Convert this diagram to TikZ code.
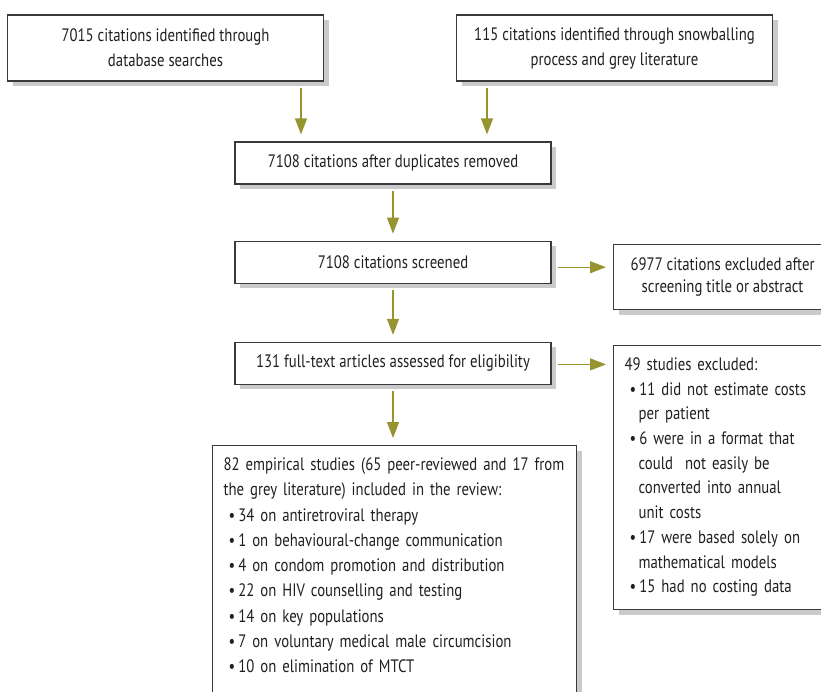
\documentclass[tikz,border=0pt]{standalone}
\usepackage{fontspec}
\setmainfont{PT Sans}[FakeStretch=0.82]
\usetikzlibrary{positioning, arrows.meta}

\definecolor{arrowolive}{RGB}{150,148,46}
\definecolor{boxline}{RGB}{58,58,58}
\definecolor{boxshade}{RGB}{202,202,202}
\definecolor{ink}{RGB}{35,31,32}

\newcommand{\bulit}{\hspace*{5pt}\textbullet\hspace{3pt}}
\newcommand{\contin}{\hspace*{14pt}}

\begin{document}
\begin{tikzpicture}[x=1pt,y=-1pt,>={Triangle[length=16pt,width=12pt]},font=\fontsize{18}{25}\selectfont]
	\tikzset{box/.style={draw=boxline, line width=1.2pt, fill=white, text=ink, minimum width=316pt, minimum height=42pt, align=center,
		preaction={fill=boxshade, draw=none, transform canvas={shift={(5pt,-5pt)}}}},
		flow/.style={->, color=arrowolive, line width=1.2pt, shorten <=6pt, shorten >=7pt}}
	\useasboundingbox (0,0) rectangle (821,691);
	\node[box, minimum height=66pt] (db) at (165.5,48) {7015 citations identified through\\database searches};
	\node[box, minimum height=66pt] (snow) at (614.5,48) {115 citations identified through snowballing\\process and grey literature};
	\node[box] (dedup) at (393,163) {7108 citations after duplicates removed};
	\node[box] (screened) [below=56pt of dedup] {7108 citations screened};
	\node[box] (fulltext) [below=58pt of screened] {131 full-text articles assessed for eligibility};
	\node[box, anchor=north west, minimum width=218pt, minimum height=65pt, font=\fontsize{18}{22}\selectfont] (scrout) at (613,244) {6977 citations excluded after\\screening title or abstract};
	\node[box, anchor=north west, minimum width=218pt, text width=196pt, align=left, inner xsep=11pt, inner ysep=12pt, font=\fontsize{18}{24.7}\selectfont] (ftout) at (613,345) {49 studies excluded:\\
		\bulit 11 did not estimate costs\\
		\contin per patient\\
		\bulit 6 were in a format that\\
		\contin could~ not easily be\\
		\contin converted into annual\\
		\contin unit costs\\
		\bulit 17 were based solely on\\
		\contin mathematical models\\
		\bulit 15 had no costing data\rule[-5pt]{0pt}{0pt}};
	\node[box, anchor=north west, text width=342pt, align=left, inner xsep=11pt, inner ysep=12pt, font=\fontsize{18}{25.3}\selectfont] (incl) at (212,445) {82 empirical studies (65 peer-reviewed and 17 from\\
		the grey literature) included in the review:\\
		\bulit 34 on antiretroviral therapy\\
		\bulit 1 on behavioural-change communication\\
		\bulit 4 on condom promotion and distribution\\
		\bulit 22 on HIV counselling and testing\\
		\bulit 14 on key populations\\
		\bulit 7 on voluntary medical male circumcision\\
		\bulit 10 on elimination of MTCT\rule[-20pt]{0pt}{0pt}};
	\path[flow]
		([xshift=-92pt]dedup.north |- db.south)
			edge ([xshift=-92pt]dedup.north)
		([xshift=94pt]dedup.north |- snow.south)
			edge ([xshift=94pt]dedup.north)
		(dedup)
			edge (screened)
		(screened)
			edge (fulltext)
		(fulltext)
			edge (fulltext |- incl.north)
		([yshift=-5pt]screened.east)
			edge ([yshift=-5pt]screened.east -| scrout.west)
		([yshift=-1pt]fulltext.east)
			edge ([yshift=-1pt]fulltext.east -| ftout.west);
\end{tikzpicture}
\end{document}
